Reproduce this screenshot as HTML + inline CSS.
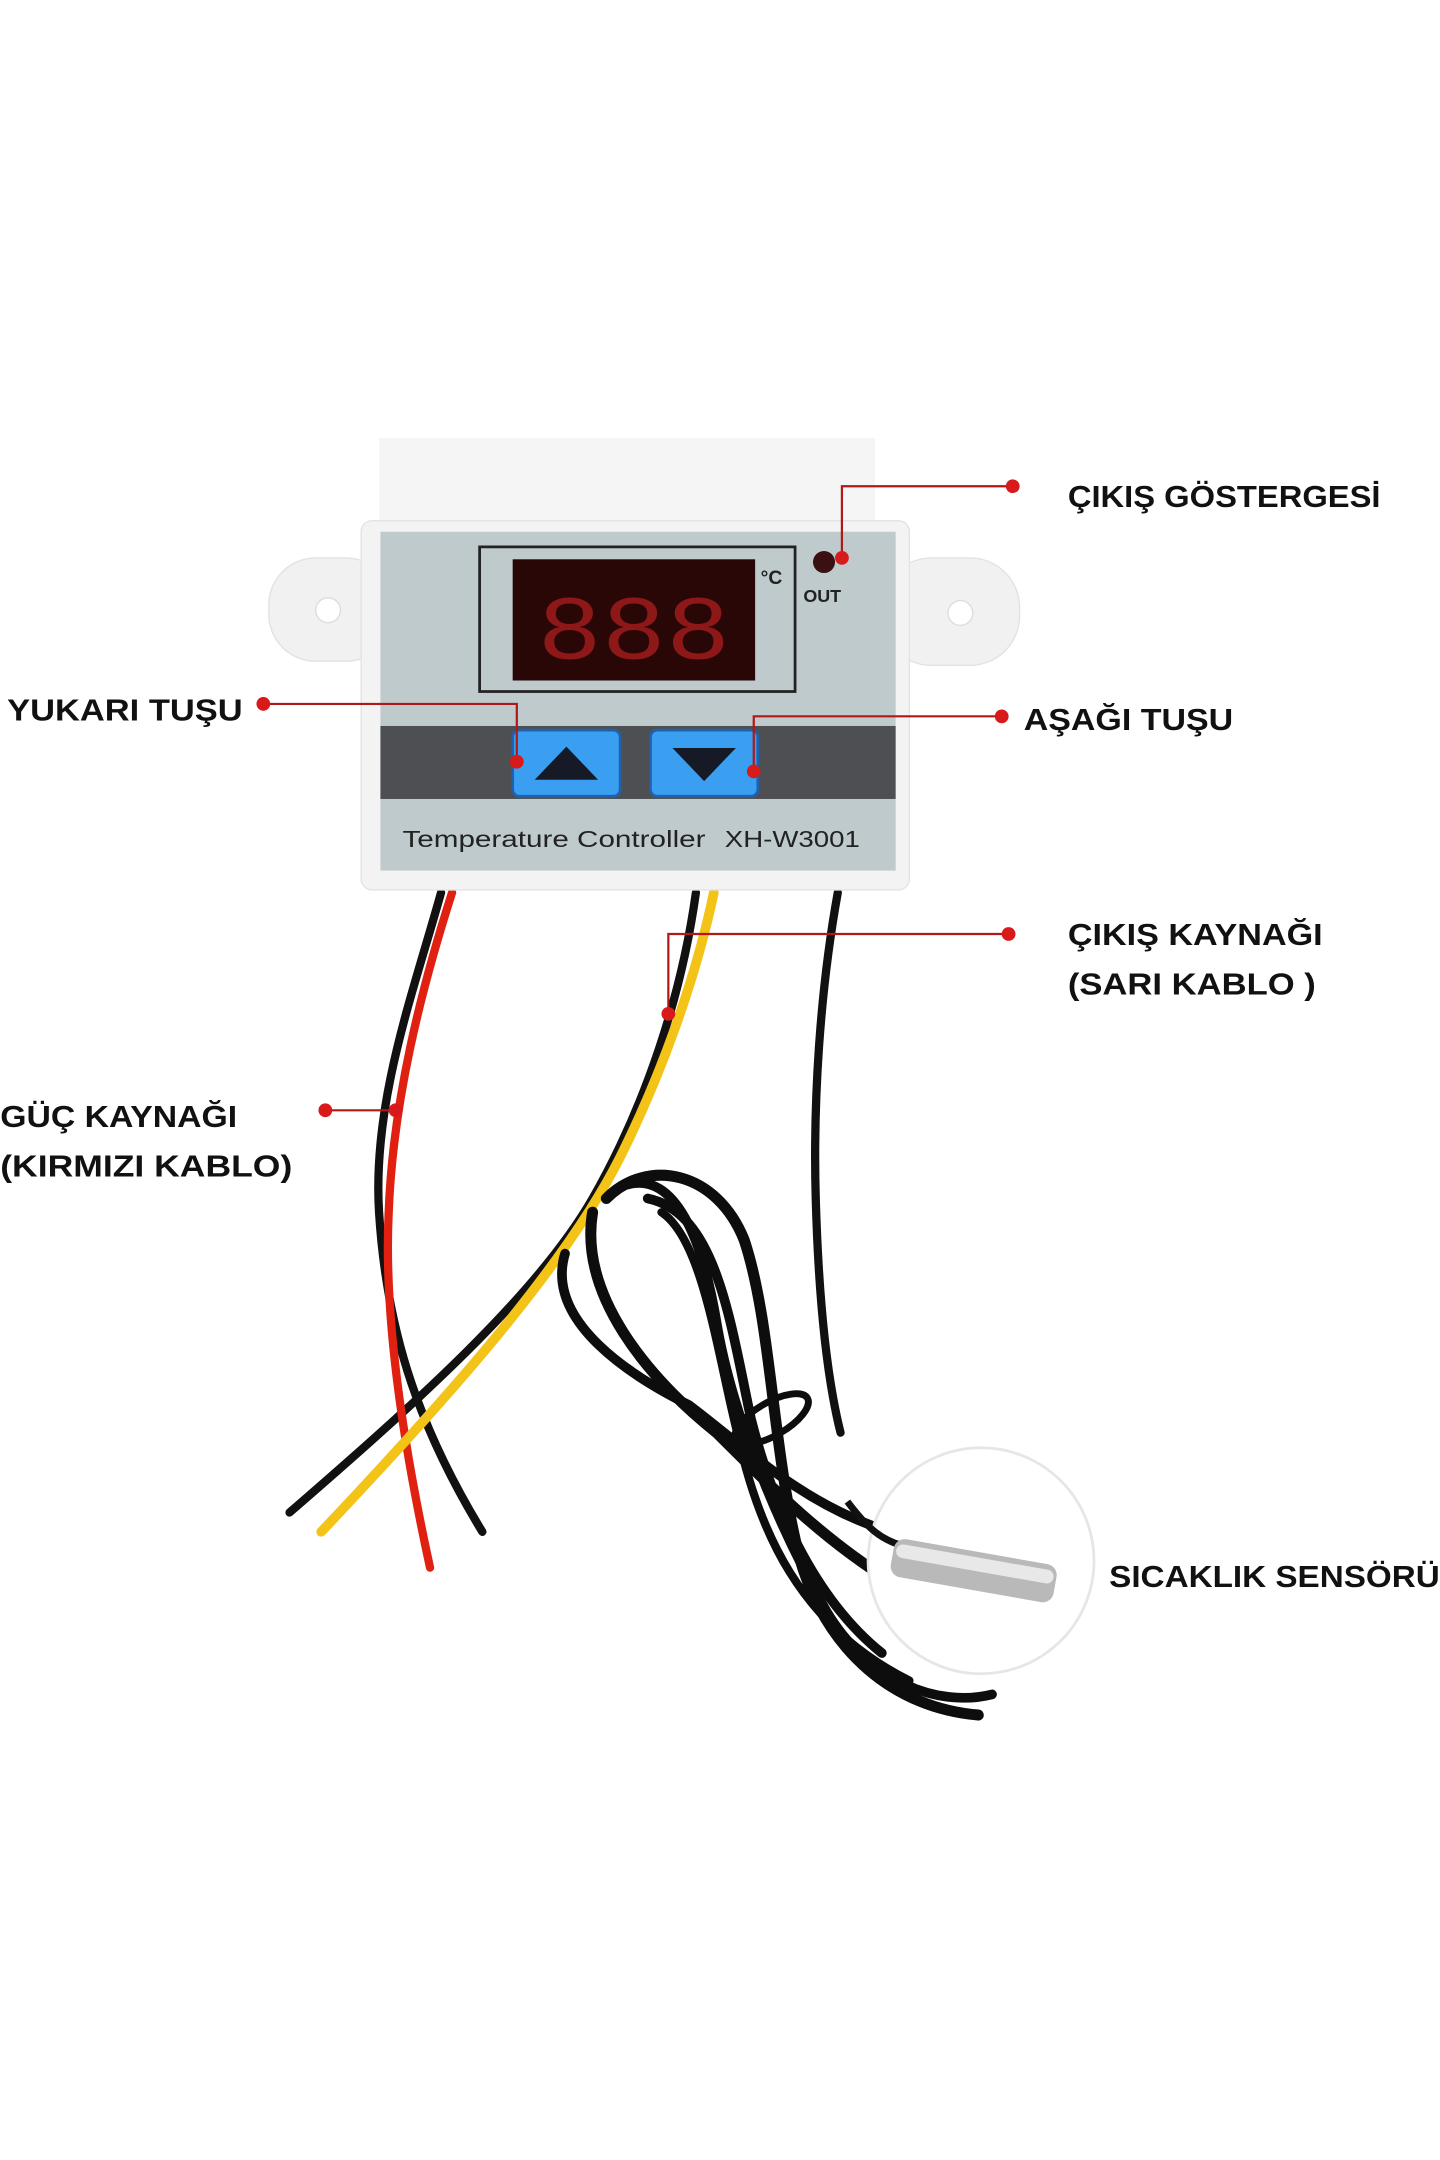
<!DOCTYPE html>
<html><head><meta charset="utf-8"><style>html,body{margin:0;padding:0;background:#fff}svg{display:block}</style></head>
<body>
<svg width="1440" height="2160" viewBox="0 0 1045 1568" xmlns="http://www.w3.org/2000/svg" font-family="'Liberation Sans', 'DejaVu Sans', sans-serif">
<rect width="1045" height="1568" fill="#fff"/>
<g fill="none" stroke-linecap="round">
<path d="M320,648 C300,720 270,800 275,880 C280,960 300,1030 350,1112" stroke="#111" stroke-width="6"/>
<path d="M505,648 C495,720 470,800 430,870 C390,940 300,1020 210,1098" stroke="#111" stroke-width="6"/>
<path d="M328,648 C305,720 285,800 282,880 C278,960 295,1060 312,1138" stroke="#e02010" stroke-width="6"/>
<path d="M518,648 C505,710 480,780 450,840 C410,920 320,1020 233,1112" stroke="#f3c318" stroke-width="7"/>
<path d="M608,648 C595,720 590,800 592,870 C594,940 600,1000 610,1040" stroke="#111" stroke-width="6"/>
<path d="M440,870 C470,840 520,850 540,900 C560,960 560,1050 580,1130 C600,1200 650,1240 710,1245" stroke="#0d0d0d" stroke-width="8"/>
<path d="M430,880 C420,940 470,1000 520,1040 C560,1080 600,1120 650,1150" stroke="#0d0d0d" stroke-width="8"/>
<path d="M455,860 C490,850 510,900 520,960 C530,1020 560,1100 600,1170 C630,1220 680,1240 720,1230" stroke="#0d0d0d" stroke-width="7"/>
<path d="M410,910 C395,960 460,1000 500,1020 C540,1050 580,1090 640,1110" stroke="#0d0d0d" stroke-width="7"/>
<path d="M470,870 C520,880 530,960 545,1030 C560,1090 590,1160 640,1200" stroke="#0d0d0d" stroke-width="7"/>
<path d="M480,880 C510,900 520,980 535,1040 C550,1110 580,1180 660,1220" stroke="#0d0d0d" stroke-width="6"/>
<ellipse cx="560" cy="1030" rx="30" ry="12" transform="rotate(-30 560 1030)" stroke="#0d0d0d" stroke-width="5"/>
</g>
<circle cx="712" cy="1133" r="82" fill="#fff" stroke="#e6e6e6" stroke-width="2"/>
<path d="M615,1090 C630,1110 640,1118 655,1122" stroke="#111" stroke-width="5" fill="none"/>
<rect x="650" y="1116" width="120" height="28" rx="8" fill="#b9b9b9" transform="rotate(10 650 1116)"/>
<rect x="652" y="1120" width="116" height="10" rx="5" fill="#e8e8e8" transform="rotate(10 650 1116)"/>
<rect x="195" y="405" width="90" height="75" rx="34" fill="#f1f1f1" stroke="#e2e2e2"/>
<rect x="640" y="405" width="100" height="78" rx="36" fill="#f1f1f1" stroke="#e2e2e2"/>
<circle cx="238" cy="443" r="9" fill="#fff" stroke="#ddd"/>
<circle cx="697" cy="445" r="9" fill="#fff" stroke="#ddd"/>
<rect x="275" y="318" width="360" height="80" fill="#f5f5f5"/>
<rect x="262" y="378" width="398" height="268" rx="8" fill="#f3f3f3" stroke="#e3e3e3"/>
<rect x="276" y="386" width="374" height="246" fill="#bfcacd"/>
<rect x="348" y="397" width="229" height="105" fill="none" stroke="#222" stroke-width="2"/>
<rect x="372" y="406" width="176" height="88" fill="#2a0707"/>
<text x="390" y="478" font-size="66" fill="#8e1818" textLength="140" lengthAdjust="spacingAndGlyphs" font-family="'Liberation Mono', monospace">888</text>
<text x="552" y="424" font-size="14" font-weight="bold" fill="#222">°C</text>
<circle cx="598" cy="408" r="8" fill="#3a1010"/>
<text x="583" y="437" font-size="13" font-weight="bold" fill="#222">OUT</text>
<rect x="276" y="527" width="374" height="53" fill="#4e4f52"/>
<rect x="372" y="530" width="78" height="48" rx="5" fill="#3a9ff0" stroke="#1c62b0" stroke-width="2"/>
<rect x="472" y="530" width="78" height="48" rx="5" fill="#3a9ff0" stroke="#1c62b0" stroke-width="2"/>
<polygon points="411,542 434,566 388,566" fill="#151a26"/>
<polygon points="488,543 534,543 511,567" fill="#151a26"/>
<text x="292" y="615" font-size="17" fill="#222" textLength="220" lengthAdjust="spacingAndGlyphs">Temperature Controller</text>
<text x="526" y="615" font-size="17" fill="#222" textLength="98" lengthAdjust="spacingAndGlyphs">XH-W3001</text>
<g stroke="#b01818" stroke-width="1.6" fill="none">
<polyline points="735,353 611,353 611,405"/>
<polyline points="191,511 375,511 375,553"/>
<polyline points="727,520 547,520 547,560"/>
<polyline points="732,678 485,678 485,736"/>
<polyline points="236,806 287,806"/>
</g>
<g fill="#d81a1a">
<circle cx="735" cy="353" r="5"/><circle cx="611" cy="405" r="5"/>
<circle cx="191" cy="511" r="5"/><circle cx="375" cy="553" r="5"/>
<circle cx="727" cy="520" r="5"/><circle cx="547" cy="560" r="5"/>
<circle cx="732" cy="678" r="5"/><circle cx="485" cy="736" r="5"/>
<circle cx="236" cy="806" r="5"/><circle cx="287" cy="806" r="5"/>
</g>
<g font-size="22" font-weight="bold" fill="#111">
<text x="775" y="368" textLength="227" lengthAdjust="spacingAndGlyphs">ÇIKIŞ GÖSTERGESİ</text>
<text x="5" y="523" textLength="171" lengthAdjust="spacingAndGlyphs">YUKARI TUŞU</text>
<text x="743" y="530" textLength="152" lengthAdjust="spacingAndGlyphs">AŞAĞI TUŞU</text>
<text x="775" y="686" textLength="185" lengthAdjust="spacingAndGlyphs">ÇIKIŞ KAYNAĞI</text>
<text x="775" y="722" textLength="180" lengthAdjust="spacingAndGlyphs">(SARI KABLO )</text>
<text x="0" y="818" textLength="172" lengthAdjust="spacingAndGlyphs">GÜÇ KAYNAĞI</text>
<text x="0" y="854" textLength="212" lengthAdjust="spacingAndGlyphs">(KIRMIZI KABLO)</text>
<text x="805" y="1152" textLength="240" lengthAdjust="spacingAndGlyphs">SICAKLIK SENSÖRÜ</text>
</g>
</svg>
</body></html>
